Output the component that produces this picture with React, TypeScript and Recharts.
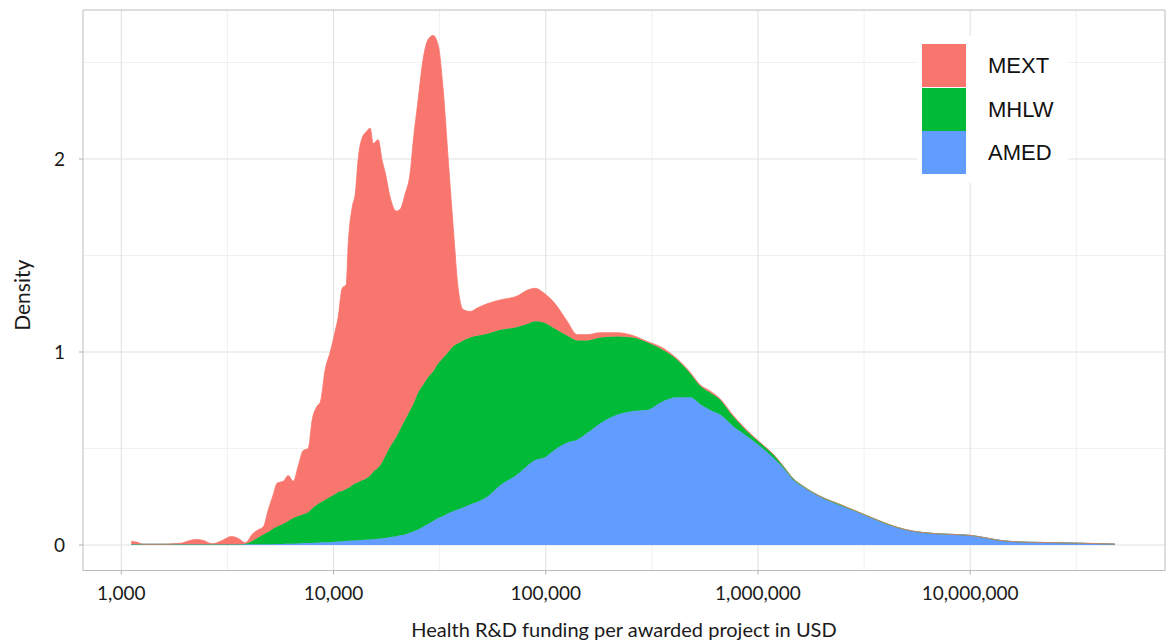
import React from 'react';
import {
  AreaChart,
  Area,
  XAxis,
  YAxis,
  CartesianGrid,
  Legend,
  ReferenceArea,
} from 'recharts';

// funding per awarded project (USD) at which the densities were read
const fundingUsd = [
  1115, 1190, 1270, 1527, 1897, 2113, 2256, 2434, 2683, 2991, 3298, 3557, 3838, 4186, 4419, 4666,
  4925, 5200, 5430, 5797, 6118, 6460, 6820, 7200, 7600, 7940, 8380, 8660, 9140, 9650, 10190,
  10520, 10990, 11480, 11730, 12250, 12660, 13070, 13650, 14260, 14890, 15380, 16240, 16960,
  17520, 18500, 19740, 20620, 21770, 22980, 23740, 25060, 26460, 27930, 29490, 31130, 32860,
  34700, 36630, 38670, 40820, 44050, 48050, 52970, 60990, 73340, 81730, 89170, 99360, 110700,
  126100, 140600, 156700, 180400, 216900, 258000, 300400, 357300, 415800, 478800, 533700,
  594900, 663100, 763400, 888700, 1023000, 1178000, 1313000, 1463000, 1631000, 1961000,
  2436000, 3027000, 3761000, 4522000, 5378000, 6681000, 8300000, 9980000, 11740000, 13820000,
  17160000, 22500000, 31170000, 48110000,
];

const amedDensity = [
  0.004, 0.004, 0.004, 0.004, 0.004, 0.004, 0.004, 0.004, 0.004, 0.004, 0.004, 0.004, 0.004,
  0.004, 0.004, 0.004, 0.004, 0.004, 0.005, 0.005, 0.006, 0.007, 0.008, 0.009, 0.01, 0.011,
  0.012, 0.013, 0.014, 0.015, 0.017, 0.018, 0.02, 0.021, 0.022, 0.023, 0.024, 0.025, 0.026,
  0.027, 0.028, 0.03, 0.032, 0.035, 0.037, 0.04, 0.045, 0.05, 0.055, 0.065, 0.07, 0.08, 0.095,
  0.11, 0.125, 0.14, 0.15, 0.165, 0.175, 0.185, 0.195, 0.21, 0.225, 0.25, 0.31, 0.365, 0.41,
  0.44, 0.455, 0.495, 0.53, 0.545, 0.58, 0.63, 0.675, 0.695, 0.7, 0.745, 0.765, 0.765, 0.73,
  0.7, 0.676, 0.616, 0.564, 0.512, 0.452, 0.4, 0.34, 0.3, 0.25, 0.205, 0.165, 0.122, 0.09,
  0.071, 0.06, 0.055, 0.05, 0.038, 0.024, 0.016, 0.013, 0.01, 0.005,
];

const mhlwDensity = [
  0, 0, 0, 0, 0, 0, 0, 0, 0, 0, 0, 0, 0.003, 0.02, 0.035, 0.05, 0.063, 0.082, 0.091, 0.105,
  0.119, 0.133, 0.142, 0.151, 0.16, 0.179, 0.198, 0.207, 0.221, 0.235, 0.248, 0.257, 0.26,
  0.269, 0.273, 0.287, 0.296, 0.3, 0.309, 0.318, 0.332, 0.35, 0.368, 0.395, 0.423, 0.47, 0.515,
  0.55, 0.595, 0.635, 0.66, 0.71, 0.735, 0.76, 0.775, 0.8, 0.82, 0.835, 0.855, 0.86, 0.865,
  0.865, 0.86, 0.845, 0.805, 0.765, 0.735, 0.72, 0.695, 0.625, 0.555, 0.515, 0.48, 0.445, 0.405,
  0.38, 0.35, 0.265, 0.195, 0.125, 0.095, 0.09, 0.077, 0.051, 0.026, 0.018, 0.018, 0.01, 0.005,
  0.005, 0.003, 0.005, 0.002, 0.002, 0.002, 0.001, 0, 0, 0, 0, 0, 0, 0, 0, 0,
];

const mextDensity = [
  0.015, 0.01, 0, 0, 0.005, 0.02, 0.025, 0.02, 0.002, 0.02, 0.04, 0.03, 0.005, 0.037, 0.04,
  0.04, 0.115, 0.175, 0.225, 0.22, 0.235, 0.19, 0.26, 0.33, 0.33, 0.46, 0.51, 0.52, 0.675, 0.75,
  0.845, 0.905, 1.05, 1.06, 1.265, 1.44, 1.5, 1.675, 1.775, 1.795, 1.8, 1.7, 1.7, 1.56, 1.47,
  1.29, 1.17, 1.14, 1.17, 1.23, 1.36, 1.52, 1.69, 1.75, 1.74, 1.65, 1.39, 1.0, 0.62, 0.285,
  0.16, 0.135, 0.145, 0.155, 0.155, 0.16, 0.175, 0.17, 0.15, 0.13, 0.075, 0.03, 0.03, 0.025,
  0.02, 0.01, 0.005, 0.01, 0.005, 0.005, 0.005, 0.008, 0.005, 0.005, 0.004, 0.002, 0.001, 0, 0,
  0, 0, 0, 0, 0, 0, 0, 0, 0, 0, 0, 0, 0, 0, 0, 0,
];

const agencies = ['MEXT', 'MHLW', 'AMED'];
const agencyColors: Record<string, string> = {
  MEXT: '#F8766D',
  MHLW: '#00BA38',
  AMED: '#619CFF',
};

const xTicks = [1000, 10000, 100000, 1000000, 10000000];
const xMinorTicks = [3162, 31623, 316228, 3162278, 31622777];
const yTicks = [0, 1, 2];
const yMinorTicks = [0.5, 1.5, 2.5];

const X_DOMAIN: [number, number] = [660, 82800000];
const Y_DOMAIN: [number, number] = [-0.132, 2.772];

const data = fundingUsd.map((usd, i) => ({
  usd,
  AMED: amedDensity[i],
  MHLW: mhlwDensity[i],
  MEXT: mextDensity[i],
}));

const AXIS_FONT = 'Lato, "Open Sans", sans-serif';

const LegendBox = () => (
  <div style={{ background: '#fff', width: 151, height: 147, boxSizing: 'border-box', paddingTop: 8, paddingLeft: 5 }}>
    {agencies.map((name) => (
      <div key={name} style={{ display: 'flex', alignItems: 'center', height: 43.7 }}>
        <div style={{ width: 44, height: 43, background: agencyColors[name], borderBottom: '0.7px solid #fff' }} />
        <span
          style={{
            marginLeft: 22,
            fontFamily: '"Liberation Sans", Arial, sans-serif',
            fontSize: 22,
            color: '#111',
          }}
        >
          {name}
        </span>
      </div>
    ))}
  </div>
);

export default function App() {
  return (
    <div style={{ position: 'absolute', left: 0, top: 0, background: '#fff' }}>
      <AreaChart width={1168} height={641} data={data} margin={{ top: 10, right: 3, bottom: 30, left: 0 }}>
        <CartesianGrid
          horizontalValues={yMinorTicks}
          verticalValues={xMinorTicks}
          stroke="#ececec"
          strokeWidth={0.8}
        />
        <CartesianGrid
          horizontalValues={yTicks}
          verticalValues={xTicks}
          stroke="#e2e2e2"
          strokeWidth={1.1}
        />
        <XAxis
          dataKey="usd"
          type="number"
          scale="log"
          domain={X_DOMAIN}
          allowDataOverflow
          ticks={xTicks}
          tickFormatter={(v: number) => v.toLocaleString('en-US')}
          axisLine={false}
          tickLine={{ stroke: '#b3b3b3' }}
          tickSize={4}
          tickMargin={12}
          height={40.5}
          tick={{ fontFamily: AXIS_FONT, fontSize: 19, fill: '#1a1a1a' }}
          label={{
            content: ({ viewBox }: any) => (
              <text
                x={viewBox.x + viewBox.width / 2}
                y={viewBox.y + viewBox.height + 26}
                textAnchor="middle"
                fontFamily={AXIS_FONT}
                fontSize={20}
                fill="#1a1a1a"
              >
                Health R&amp;D funding per awarded project in USD
              </text>
            ),
          }}
        />
        <YAxis
          type="number"
          domain={Y_DOMAIN}
          allowDataOverflow
          ticks={yTicks}
          axisLine={false}
          tickLine={{ stroke: '#b3b3b3' }}
          tickSize={4}
          tickMargin={14}
          width={83}
          tick={{ fontFamily: AXIS_FONT, fontSize: 19, fill: '#1a1a1a' }}
          label={{
            content: ({ viewBox }: any) => {
              const cx = 21;
              const cy = viewBox.y + viewBox.height / 2 + 5;
              return (
                <text
                  x={cx}
                  y={cy}
                  transform={`rotate(-90 ${cx} ${cy})`}
                  textAnchor="middle"
                  dominantBaseline="central"
                  fontFamily={AXIS_FONT}
                  fontSize={21}
                  fill="#1a1a1a"
                >
                  Density
                </text>
              );
            },
          }}
        />
        <ReferenceArea
          x1={X_DOMAIN[0]}
          x2={X_DOMAIN[1]}
          y1={Y_DOMAIN[0]}
          y2={Y_DOMAIN[1]}
          fill="none"
          stroke="#bdbdbd"
          strokeWidth={1}
        />
        {['AMED', 'MHLW', 'MEXT'].map((name) => (
          <Area
            key={name}
            type="monotone"
            dataKey={name}
            stackId="density"
            fill={agencyColors[name]}
            fillOpacity={1}
            stroke={agencyColors[name]}
            strokeWidth={0.8}
            isAnimationActive={false}
          />
        ))}
        <Legend
          layout="horizontal"
          verticalAlign="middle"
          align="center"
          content={() => <LegendBox />}
          wrapperStyle={{ left: 917, top: 36, width: 151, height: 147 }}
        />
      </AreaChart>
    </div>
  );
}
